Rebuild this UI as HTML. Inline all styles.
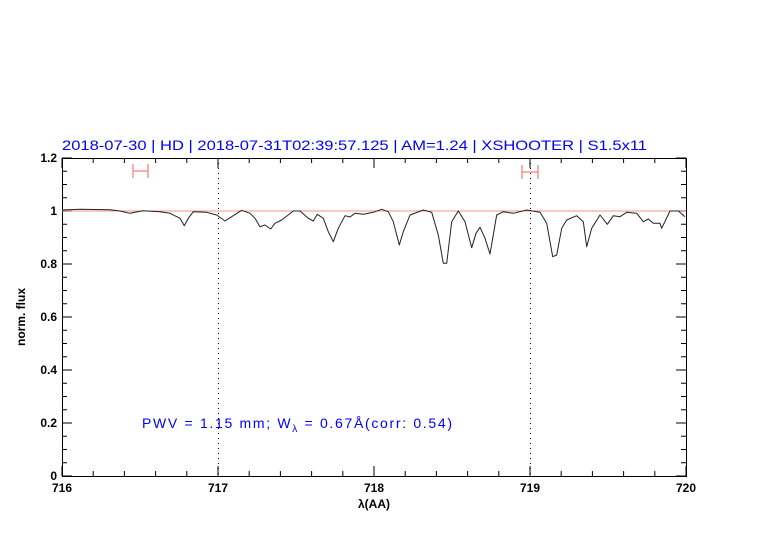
<!DOCTYPE html>
<html><head><meta charset="utf-8"><style>
body{margin:0;background:#fff;}
svg{display:block;font-family:"Liberation Sans",sans-serif;}
</style></head><body>
<svg width="782" height="542" xmlns="http://www.w3.org/2000/svg">
<path stroke="#000" stroke-width="1" fill="none" d="
M62,476v-10M93.2,476v-5M124.4,476v-5M155.6,476v-5M186.8,476v-5M218,476v-10M249.2,476v-5M280.4,476v-5M311.6,476v-5M342.8,476v-5M374,476v-10M405.2,476v-5M436.4,476v-5M467.6,476v-5M498.8,476v-5M530,476v-10M561.2,476v-5M592.4,476v-5M623.6,476v-5M654.8,476v-5M686,476v-10
M62,158v10M93.2,158v5M124.4,158v5M155.6,158v5M186.8,158v5M218,158v10M249.2,158v5M280.4,158v5M311.6,158v5M342.8,158v5M374,158v10M405.2,158v5M436.4,158v5M467.6,158v5M498.8,158v5M530,158v10M561.2,158v5M592.4,158v5M623.6,158v5M654.8,158v5M686,158v10
M62,476h10M62,462.75h5M62,449.5h5M62,436.25h5M62,423h10M62,409.75h5M62,396.5h5M62,383.25h5M62,370h10M62,356.75h5M62,343.5h5M62,330.25h5M62,317h10M62,303.75h5M62,290.5h5M62,277.25h5M62,264h10M62,250.75h5M62,237.5h5M62,224.25h5M62,211h10M62,197.75h5M62,184.5h5M62,171.25h5M62,158h10
M686,476h-10M686,462.75h-5M686,449.5h-5M686,436.25h-5M686,423h-10M686,409.75h-5M686,396.5h-5M686,383.25h-5M686,370h-10M686,356.75h-5M686,343.5h-5M686,330.25h-5M686,317h-10M686,303.75h-5M686,290.5h-5M686,277.25h-5M686,264h-10M686,250.75h-5M686,237.5h-5M686,224.25h-5M686,211h-10M686,197.75h-5M686,184.5h-5M686,171.25h-5M686,158h-10"/>
<rect x="62.5" y="158.5" width="624" height="318" fill="none" stroke="#000"/>
<line x1="62" y1="211" x2="686" y2="211" stroke="#f66" stroke-width="0.8"/>
<line x1="218.5" y1="158" x2="218.5" y2="476" stroke="#000" stroke-dasharray="1,4" stroke-width="1"/>
<line x1="530.5" y1="158" x2="530.5" y2="476" stroke="#000" stroke-dasharray="1,4" stroke-width="1"/>
<g stroke="#f77" stroke-width="1.2">
<line x1="133" y1="171" x2="148" y2="171"/><line x1="133" y1="164" x2="133" y2="178"/><line x1="148" y1="164" x2="148" y2="178"/>
<line x1="522" y1="172" x2="538" y2="172"/><line x1="522" y1="165" x2="522" y2="179"/><line x1="538" y1="165" x2="538" y2="179"/>
</g>
<polyline fill="none" stroke="#222" stroke-width="1" stroke-linejoin="round" points="62,210 80,209.3 110,209.7 120,211 130,213.3 143,210.7 160,211.7 170,213.3 180,218.3 184.3,225.7 188.3,218.3 193.3,211.7 206.7,212.3 216.7,215 225,221 231.7,216.7 241.7,210.3 250,213.3 255,218.3 260,226.7 265,225 270.7,229 275,223.3 281.7,220 293.3,211 300,211 308.3,218.3 313.3,221 317.3,214.3 323.3,218.3 328.3,231.7 333.3,241.7 338.3,228.3 345,215.7 350,217 355,213.3 363.3,214.3 373.3,212.3 381.7,209.3 388.3,211.7 393.3,221.7 399.3,245 403.3,231.7 410,215 423.3,210 431.7,212.3 438.3,235 443.3,263.3 446.7,263.3 451.7,221.7 458.3,211 465,221.7 471.7,247.7 476,233.3 480,227.3 485,238.3 490,254 496.7,215 503.3,211.7 513.3,213.3 526.7,210 540,212.3 546.7,223.3 552.7,256.7 556.7,255 561.7,228.3 566.7,220 576.7,215.7 583.3,221.7 586.7,246.7 591.7,228.3 600,215 607.3,224.3 613.3,215.7 620,216.7 626.7,212.3 636.7,213.3 643.3,221.7 648.3,219 653.3,223.3 660,223.3 661.7,228.3 670,211 678.3,211 685,216.7"/>
<g font-size="12" fill="#000" text-anchor="end" font-weight="bold">
<text x="57" y="162">1.2</text><text x="57" y="215">1</text><text x="57" y="268">0.8</text><text x="57" y="321">0.6</text><text x="57" y="374">0.4</text><text x="57" y="427">0.2</text><text x="57" y="480">0</text>
</g>
<g font-size="12" fill="#000" text-anchor="middle" font-weight="bold">
<text x="62" y="492">716</text><text x="218" y="492">717</text><text x="374" y="492">718</text><text x="530" y="492">719</text><text x="686" y="492">720</text>
<text x="374" y="508">λ(AA)</text>
</g>
<text x="25" y="317" font-size="12" font-weight="bold" text-anchor="middle" transform="rotate(-90 25 317)">norm. flux</text>
<text x="62" y="150" font-size="14" fill="#00f" textLength="585" lengthAdjust="spacingAndGlyphs">2018-07-30 | HD | 2018-07-31T02:39:57.125 | AM=1.24 | XSHOOTER | S1.5x11</text>
<text x="142" y="428" font-size="14" fill="#00f" textLength="310" lengthAdjust="spacing">PWV  =  1.15  mm;  W<tspan font-size="10" dy="4">λ</tspan><tspan dy="-4">  =  0.67Å(corr: 0.54)</tspan></text>
</svg>
</body></html>
